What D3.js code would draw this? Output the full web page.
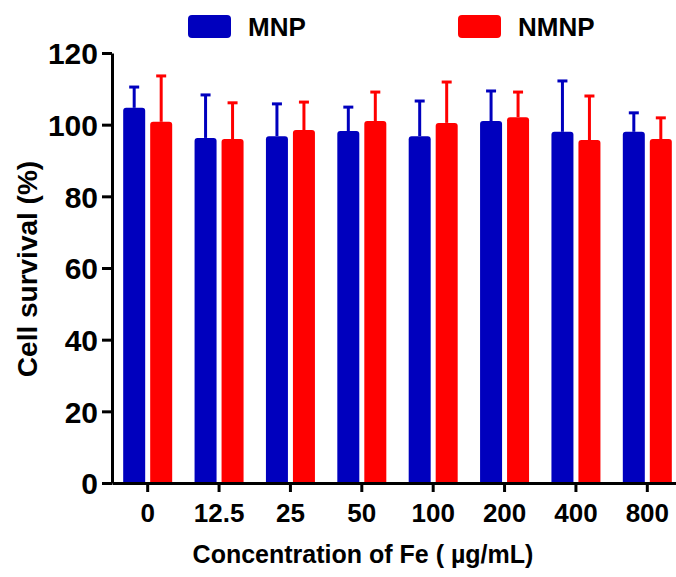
<!DOCTYPE html>
<html>
<head>
<meta charset="utf-8">
<script src="https://cdn.jsdelivr.net/npm/d3@7"></script>
<style>
  html, body { margin: 0; padding: 0; background: #fff; }
  svg { display: block; }
  text { font-family: "Liberation Sans", Arial, Helvetica, sans-serif; font-weight: bold; fill: #000; }
</style>
</head>
<body>
<svg id="chart" width="676" height="577"></svg>
<script>
const categories = ["0", "12.5", "25", "50", "100", "200", "400", "800"];
const seriesNames = ["MNP", "NMNP"];
const mnpMean = [104.7, 96.3, 96.8, 98.2, 96.8, 101.0, 98.0, 98.0];
const mnpUpper = [110.5, 108.3, 105.8, 104.9, 106.6, 109.4, 112.2, 103.3];
const nmnpMean = [100.8, 96.0, 98.5, 101.0, 100.5, 102.1, 95.7, 96.0];
const nmnpUpper = [113.6, 106.1, 106.3, 109.1, 111.9, 109.1, 108.0, 101.9];
const yTicks = [0, 20, 40, 60, 80, 100, 120];
const colors = ["#0000BE", "#FF0000"];

const svg = d3.select("#chart");
const y0 = 483, yTop = 53, xLeft = 112, xRight = 683;

const x0 = d3.scaleBand().domain(categories).range([xLeft, xRight]).padding(0);
const bw = x0.bandwidth();
const x1 = d3.scaleBand().domain(seriesNames).range([bw / 2 - 24.5, bw / 2 + 24.5]).paddingInner(0.185);
const y = d3.scaleLinear().domain([0, 120]).range([y0, yTop]);
const color = d3.scaleOrdinal().domain(seriesNames).range(colors);

const data = categories.map((c, i) => ({
  cat: c,
  vals: [
    { s: "MNP", mean: mnpMean[i], up: mnpUpper[i] },
    { s: "NMNP", mean: nmnpMean[i], up: nmnpUpper[i] }
  ]
}));

function topRounded(x, yT, w, yB, r) {
  return `M${x},${yB} L${x},${yT + r} Q${x},${yT} ${x + r},${yT} L${x + w - r},${yT} Q${x + w},${yT} ${x + w},${yT + r} L${x + w},${yB} Z`;
}

const groups = svg.append("g").selectAll("g").data(data).join("g")
  .attr("transform", d => `translate(${x0(d.cat)},0)`);

// error bars (behind bars)
groups.selectAll("g.err").data(d => d.vals).join("g").attr("class", "err")
  .each(function (d) {
    const g = d3.select(this);
    const cx = x1(d.s) + x1.bandwidth() / 2;
    g.append("line").attr("x1", cx).attr("x2", cx)
      .attr("y1", y(d.mean)).attr("y2", y(d.up))
      .attr("stroke", color(d.s)).attr("stroke-width", 3);
    g.append("line").attr("x1", cx - 5).attr("x2", cx + 5)
      .attr("y1", y(d.up)).attr("y2", y(d.up))
      .attr("stroke", color(d.s)).attr("stroke-width", 3);
  });

groups.selectAll("path.bar").data(d => d.vals).join("path").attr("class", "bar")
  .attr("d", d => topRounded(x1(d.s), y(d.mean), x1.bandwidth(), y0, 3))
  .attr("fill", d => color(d.s));

// Y axis
const yAxis = svg.append("g").attr("transform", `translate(${xLeft},0)`)
  .call(d3.axisLeft(y).tickValues(yTicks).tickSize(10).tickPadding(4).tickSizeOuter(0));
yAxis.select(".domain").attr("stroke", "#000").attr("stroke-width", 3);
yAxis.selectAll(".tick line").attr("stroke", "#000").attr("stroke-width", 3);
yAxis.selectAll(".tick text").style("font-size", "30px").attr("dy", "0.36em");

// X axis
const xAxis = svg.append("g").attr("transform", `translate(0,${y0})`)
  .call(d3.axisBottom(x0).tickSize(9).tickPadding(12).tickSizeOuter(0));
xAxis.select(".domain").attr("stroke", "#000").attr("stroke-width", 3);
xAxis.selectAll(".tick line").attr("stroke", "#000").attr("stroke-width", 3);
xAxis.selectAll(".tick text").style("font-size", "26px");

// Axis titles
svg.append("text").attr("x", 363).attr("y", 563).attr("text-anchor", "middle")
  .style("font-size", "25px").text("Concentration of Fe ( µg/mL)");
svg.append("text").attr("transform", "translate(37,269) rotate(-90)").attr("text-anchor", "middle")
  .style("font-size", "28px").text("Cell survival (%)");

// Legend
const legendX = [188, 458];
const leg = svg.append("g").selectAll("g").data(seriesNames).join("g")
  .attr("transform", (d, i) => `translate(${legendX[i]},15)`);
leg.append("rect").attr("width", 43).attr("height", 23).attr("rx", 4)
  .attr("fill", d => color(d));
leg.append("text").attr("x", 60).attr("y", 21).style("font-size", "26px").text(d => d);
</script>
</body>
</html>
